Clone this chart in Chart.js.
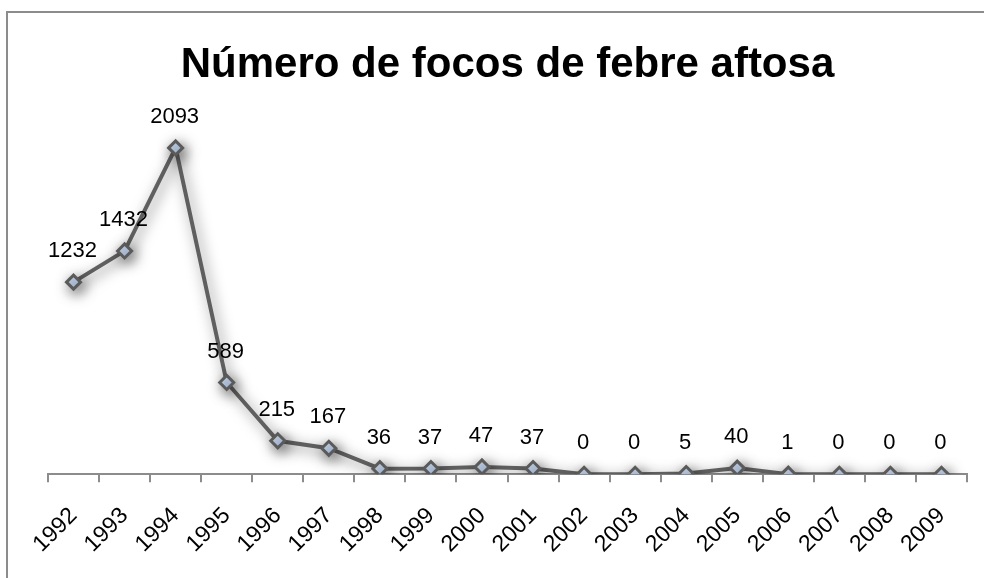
<!DOCTYPE html>
<html>
<head>
<meta charset="utf-8">
<script src="https://cdn.jsdelivr.net/npm/chart.js@4.4.1/dist/chart.umd.min.js"></script>
<style>
  html, body { margin: 0; padding: 0; background: #fff; overflow: hidden; }
  #wrap { width: 984px; height: 578px; position: relative; }
</style>
</head>
<body>
<div id="wrap"><canvas id="focosChart" width="984" height="578"></canvas></div>
<script>
// dados do gráfico
const anos = ['1992', '1993', '1994', '1995', '1996', '1997', '1998', '1999', '2000',
              '2001', '2002', '2003', '2004', '2005', '2006', '2007', '2008', '2009'];
const focos = [1232, 1432, 2093, 589, 215, 167, 36, 37, 47, 37, 0, 0, 5, 40, 1, 0, 0, 0];
const tituloTexto = 'Número de focos de febre aftosa';

const FONTE = "'Liberation Sans', Arial, sans-serif";

// moldura cinza do gráfico (passa da borda direita/inferior)
const moldura = {
    id: 'moldura',
    beforeDraw(chart) {
        const ctx = chart.ctx;
        ctx.save();
        ctx.fillStyle = '#fff';
        ctx.fillRect(0, 0, chart.width, chart.height);
        ctx.strokeStyle = '#8c8c8c';
        ctx.lineWidth = 2;
        ctx.strokeRect(7, 12, 1100, 700);
        ctx.restore();
    }
};

// sombra na linha
const sombra = {
    id: 'sombra',
    beforeDatasetDraw(chart) {
        const ctx = chart.ctx;
        ctx.save();
        ctx.shadowColor = 'rgba(0,0,0,0.55)';
        ctx.shadowBlur = 14;
        ctx.shadowOffsetX = 3;
        ctx.shadowOffsetY = 4;
    },
    afterDatasetDraw(chart) {
        chart.ctx.restore();
    }
};

// rótulos dos valores acima dos pontos
const rotulos = {
    id: 'rotulos',
    afterDatasetsDraw(chart) {
        const ctx = chart.ctx;
        const meta = chart.getDatasetMeta(0);
        ctx.save();
        ctx.font = '22px ' + FONTE;
        ctx.fillStyle = '#000';
        ctx.textAlign = 'center';
        ctx.textBaseline = 'middle';
        meta.data.forEach((pt, i) => {
            ctx.fillText(String(focos[i]), pt.x - 1, pt.y - 31);
        });
        ctx.restore();
    }
};

new Chart(document.getElementById('focosChart'), {
    type: 'line',
    data: {
        labels: anos,
        datasets: [{
            data: focos,
            borderColor: '#5f5f5f',
            borderWidth: 4,
            tension: 0,
            pointStyle: 'rectRot',
            pointRadius: 7,
            pointBackgroundColor: '#c5d7f0',
            pointBorderColor: '#5a5a5a',
            pointBorderWidth: 3
        }]
    },
    options: {
        responsive: false,
        animation: false,
        layout: { padding: { left: 48, right: 17, top: 0, bottom: 0 } },
        plugins: {
            legend: { display: false },
            tooltip: { enabled: false },
            title: {
                display: true,
                text: tituloTexto,
                color: '#000',
                font: { family: FONTE, size: 42, weight: 'bold' },
                padding: { top: 40, bottom: -6 }
            }
        },
        scales: {
            x: {
                offset: true,
                grid: {
                    offset: true,
                    drawOnChartArea: false,
                    drawTicks: true,
                    tickLength: 8,
                    color: '#8c8c8c',
                    lineWidth: 2
                },
                border: { color: '#8c8c8c', width: 2 },
                ticks: {
                    color: '#000',
                    font: { family: FONTE, size: 23 },
                    minRotation: 45,
                    maxRotation: 45,
                    padding: 20
                }
            },
            y: {
                display: false,
                min: 0,
                max: 2500
            }
        }
    },
    plugins: [moldura, sombra, rotulos]
});
</script>
</body>
</html>
